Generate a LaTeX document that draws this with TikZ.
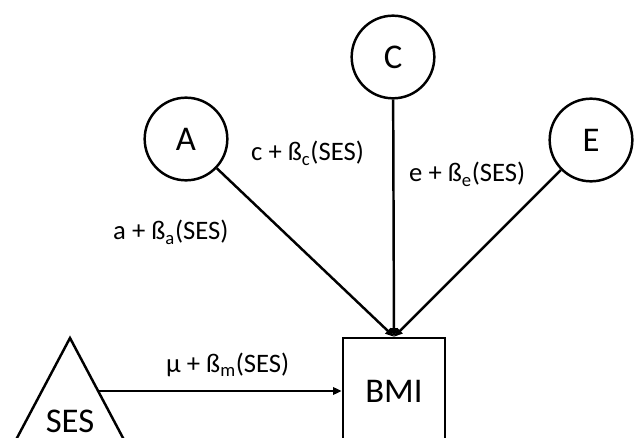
\documentclass[tikz,border=0pt]{standalone}
\usepackage{fontspec}
\setmainfont{Carlito}
\usetikzlibrary{arrows.meta}
\tikzset{
	latent/.style={draw, circle, minimum size=62pt, inner sep=0pt, font=\fontsize{26}{30}\selectfont},
	observed/.style={draw, rectangle, minimum width=76.5pt, minimum height=79.5pt, inner sep=0pt, font=\fontsize{26}{30}\selectfont},
	bigtext/.style={inner sep=0pt, font=\fontsize{26}{30}\selectfont},
	coef/.style={inner sep=0pt, anchor=base west, font=\fontsize{20}{24}\selectfont},
	arr/.style={-{Triangle[length=6.5pt,width=5.5pt]}},
}
\begin{document}
\begin{tikzpicture}[x=0.75pt, y=-0.75pt, line width=1.85pt]
	\useasboundingbox (0,0) rectangle (635,438);
	\clip (0,0) rectangle (635,438);

	\node[latent] (A) at (186,139) {A};
	\node[latent] (C) at (393,57) {C};
	\node[latent] (E) at (591,140) {E};
	\node[observed] (bmi) at (394,391) {BMI};

	\draw (0,470) -- (70,338) -- (140,470);
	\coordinate (sesedge) at (98,391);
	\node[bigtext, anchor=base] (ses) at (70,432) {SES};

	\draw[arr] (A) -- (bmi.north);
	\draw[arr] (C) -- (bmi.north);
	\draw[arr] (E) -- (bmi.north);
	\draw[arr] (sesedge) -- (bmi.west);

	\node[coef] (la) at (112,240) {a + ß\textsubscript{a}(SES)};
	\node[coef] (lc) at (250,161) {c + ß\textsubscript{c}(SES)};
	\node[coef] (le) at (408,182) {e + ß\textsubscript{e}(SES)};
	\node[coef] (lm) at (165,372) {μ + ß\textsubscript{m}(SES)};
\end{tikzpicture}
\end{document}
